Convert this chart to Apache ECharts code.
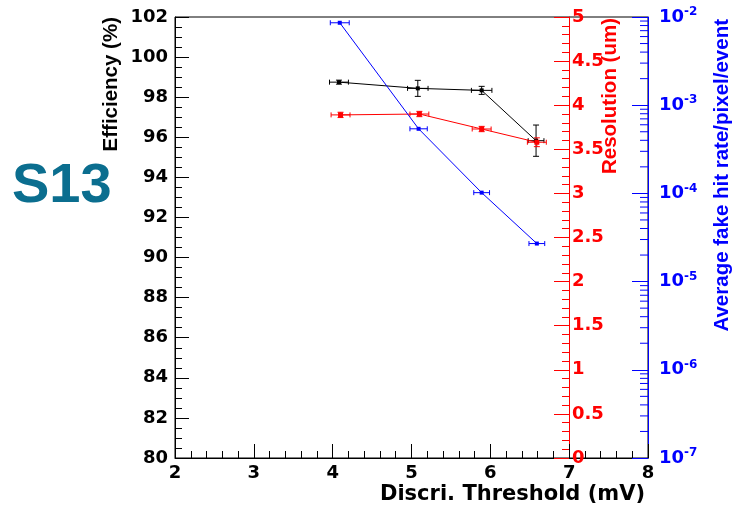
<!DOCTYPE html>
<html>
<head>
<meta charset="utf-8">
<script src="https://cdn.jsdelivr.net/npm/echarts@6/dist/echarts.min.js"></script>
<style>html,body{margin:0;padding:0;background:#fff;}#c{width:733px;height:505px;}</style>
</head>
<body>
<div id="c"></div>
<script>
// Efficiency (black)
var effX = [4.08, 5.08, 5.89, 6.58];
var effY = [98.75, 98.44, 98.34, 95.83];
var effErrX = [0.12, 0.13, 0.13, 0.10];
var effErrY = [0.10, 0.40, 0.20, 0.78];
// Resolution (red)
var resX = [4.10, 5.10, 5.89, 6.59];
var resY = [3.89, 3.90, 3.73, 3.58];
var resErrX = [0.12, 0.12, 0.12, 0.12];
var resErrY = [0.03, 0.03, 0.03, 0.05];
// Fake hit rate (blue, log)
var fakeX = [4.09, 5.09, 5.89, 6.59];
var fakeY = [8.6e-3, 5.4e-4, 1.02e-4, 2.7e-5];
var fakeErrX = [0.12, 0.11, 0.10, 0.10];
// log axis minor tick multipliers and decades
var logMinorMults = [2, 3, 4, 5, 6, 7, 8, 9];
var logDecades = [-7, -6, -5, -4, -3];

var FONT_T = 'DejaVu Sans';

function pairs(xs, ys) { return xs.map(function (x, i) { return [x, ys[i]]; }); }
function errData(xs, ys, exs, eys) { return xs.map(function (x, i) { return [x, ys[i], exs[i], eys ? eys[i] : 0]; }); }

function errRender(color) {
  return function (params, api) {
    var x = api.value(0), y = api.value(1), ex = api.value(2), ey = api.value(3);
    var l = api.coord([x - ex, y]), r = api.coord([x + ex, y]);
    var st = { stroke: color, lineWidth: 1 };
    var ch = [
      { type: 'line', shape: { x1: l[0], y1: l[1], x2: r[0], y2: r[1] }, style: st },
      { type: 'line', shape: { x1: l[0], y1: l[1] - 2.5, x2: l[0], y2: l[1] + 2.5 }, style: st },
      { type: 'line', shape: { x1: r[0], y1: r[1] - 2.5, x2: r[0], y2: r[1] + 2.5 }, style: st }
    ];
    if (ey > 0) {
      var t = api.coord([x, y + ey]), b = api.coord([x, y - ey]);
      ch.push({ type: 'line', shape: { x1: t[0], y1: t[1], x2: b[0], y2: b[1] }, style: st });
      ch.push({ type: 'line', shape: { x1: t[0] - 3, y1: t[1], x2: t[0] + 3, y2: t[1] }, style: st });
      ch.push({ type: 'line', shape: { x1: b[0] - 3, y1: b[1], x2: b[0] + 3, y2: b[1] }, style: st });
    }
    return { type: 'group', children: ch };
  };
}

var minorLogData = [];
logDecades.forEach(function (d) {
  logMinorMults.forEach(function (m) { minorLogData.push([8, m * Math.pow(10, d), m]); });
});

var chart = echarts.init(document.getElementById('c'), null, { renderer: 'canvas' });
chart.setOption({
  animation: false,
  backgroundColor: '#fff',
  grid: { left: 175, right: 85, top: 17, bottom: 47, show: true, borderColor: '#000', borderWidth: 1, backgroundColor: 'transparent', containLabel: false, outerBoundsMode: 'none' },
  xAxis: {
    type: 'value', min: 2, max: 8, interval: 1,
    axisLine: { show: true, onZero: false, lineStyle: { color: '#000', width: 1 } },
    axisTick: { show: true, inside: true, length: 14, lineStyle: { color: '#000' } },
    minorTick: { show: true, splitNumber: 5, length: 7, lineStyle: { color: '#000' } },
    splitLine: { show: false },
    axisLabel: { color: '#000', fontFamily: FONT_T, fontWeight: 'bold', fontSize: 18, margin: 6 }
  },
  yAxis: [
    {
      type: 'value', position: 'left', min: 80, max: 102, interval: 2,
      axisLine: { show: true, onZero: false, lineStyle: { color: '#000', width: 1 } },
      axisTick: { show: true, inside: true, length: 14, lineStyle: { color: '#000' } },
      minorTick: { show: true, splitNumber: 4, length: 7, lineStyle: { color: '#000' } },
      splitLine: { show: false },
      axisLabel: { color: '#000', fontFamily: FONT_T, fontWeight: 'bold', fontSize: 18, margin: 7 }
    },
    {
      type: 'value', position: 'right', offset: -79, min: 0, max: 5, interval: 0.5,
      axisLine: { show: true, onZero: false, lineStyle: { color: '#ff0000', width: 1 } },
      axisTick: { show: true, inside: true, length: 15, lineStyle: { color: '#ff0000' } },
      minorTick: { show: true, splitNumber: 5, length: 7, lineStyle: { color: '#ff0000' } },
      splitLine: { show: false },
      axisLabel: { color: '#ff0000', fontFamily: FONT_T, fontWeight: 'bold', fontSize: 18, margin: 3 }
    },
    {
      type: 'log', logBase: 10, position: 'right', offset: 0, min: 1e-7, max: 1e-2,
      axisLine: { show: true, onZero: false, lineStyle: { color: '#0000ff', width: 1 } },
      axisTick: { show: true, inside: true, length: 16, lineStyle: { color: '#0000ff' } },
      splitLine: { show: false },
      axisLabel: {
        margin: 11,
        formatter: function (v) { var e = Math.round(Math.log10(v)); return '{b|10}{s|' + e + '}'; },
        rich: {
          b: { color: '#0000ff', fontFamily: FONT_T, fontWeight: 'bold', fontSize: 18, lineHeight: 22 },
          s: { color: '#0000ff', fontFamily: FONT_T, fontWeight: 'bold', fontSize: 12, verticalAlign: 'top', lineHeight: 14 }
        }
      }
    }
  ],
  series: [
    {
      type: 'custom', xAxisIndex: 0, yAxisIndex: 2, silent: true, clip: false, z: 5,
      data: minorLogData,
      renderItem: function (params, api) {
        var p = api.coord([api.value(0), api.value(1)]);
        var len = 8;
        return { type: 'line', shape: { x1: p[0] - len, y1: p[1], x2: p[0], y2: p[1] }, style: { stroke: '#0000ff', lineWidth: 1 } };
      }
    },
    {
      type: 'custom', xAxisIndex: 0, yAxisIndex: 0, z: 3, silent: true,
      data: errData(effX, effY, effErrX, effErrY), renderItem: errRender('#000')
    },
    {
      type: 'line', xAxisIndex: 0, yAxisIndex: 0, z: 4,
      data: pairs(effX, effY), symbol: 'rect', symbolSize: 4,
      itemStyle: { color: '#000' }, lineStyle: { color: '#000', width: 1 }
    },
    {
      type: 'custom', xAxisIndex: 0, yAxisIndex: 1, z: 3, silent: true,
      data: errData(resX, resY, resErrX, resErrY), renderItem: errRender('#ff0000')
    },
    {
      type: 'line', xAxisIndex: 0, yAxisIndex: 1, z: 4,
      data: pairs(resX, resY), symbol: 'rect', symbolSize: 5,
      itemStyle: { color: '#ff0000' }, lineStyle: { color: '#ff0000', width: 1 }
    },
    {
      type: 'custom', xAxisIndex: 0, yAxisIndex: 2, z: 3, silent: true,
      data: errData(fakeX, fakeY, fakeErrX, null), renderItem: errRender('#0000ff')
    },
    {
      type: 'line', xAxisIndex: 0, yAxisIndex: 2, z: 4,
      data: pairs(fakeX, fakeY), symbol: 'rect', symbolSize: 4,
      itemStyle: { color: '#0000ff' }, lineStyle: { color: '#0000ff', width: 1 }
    }
  ],
  graphic: [
    { type: 'text', x: 12, y: 187, style: { text: 'S13', fill: '#0b6e8f', font: 'bold 56px "Liberation Sans"', align: 'left', verticalAlign: 'middle' } },
    { type: 'text', x: 111, y: 17, rotation: Math.PI / 2, style: { text: 'Efficiency (%)', fill: '#000', font: 'bold 20.5px "Liberation Sans"', align: 'right', verticalAlign: 'middle' } },
    { type: 'text', x: 610, y: 18, rotation: Math.PI / 2, style: { text: 'Resolution (um)', fill: '#ff0000', font: 'bold 20.5px "Liberation Sans"', align: 'right', verticalAlign: 'middle' } },
    { type: 'text', x: 722, y: 19, rotation: Math.PI / 2, style: { text: 'Average fake hit rate/pixel/event', fill: '#0000ff', font: 'bold 20.5px "Liberation Sans"', align: 'right', verticalAlign: 'middle' } },
    { type: 'text', x: 645, y: 495, style: { text: 'Discri. Threshold (mV)', fill: '#000', font: 'bold 21px "DejaVu Sans"', align: 'right', verticalAlign: 'middle' } }
  ]
});
</script>
</body>
</html>
